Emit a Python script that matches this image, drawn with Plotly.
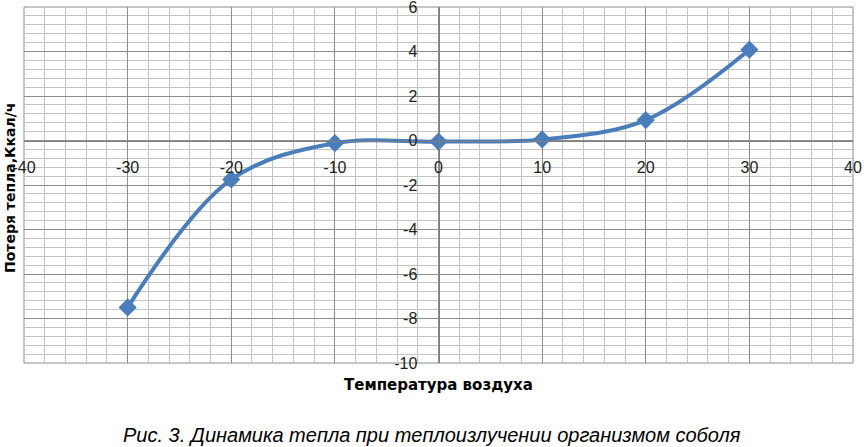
import plotly.graph_objects as go

temperature = [-30, -20, -10, 0, 10, 20, 30]
heat_loss = [-7.5, -1.75, -0.12, -0.05, 0.05, 0.92, 4.08]

x_ticks = [-40, -30, -20, -10, 0, 10, 20, 30, 40]
y_ticks = [-10, -8, -6, -4, -2, 0, 2, 4, 6]

x_title = "Температура воздуха"
y_title = "Потеря тепла,Ккал/ч"
caption = "Рис. 3. Динамика тепла при теплоизлучении организмом соболя"

blue = "#4A7EBB"
major = "#8c8c8c"
minor = "#c4c4c4"

fig = go.Figure()
fig.add_trace(go.Scatter(
    x=temperature, y=heat_loss, mode="lines+markers",
    line=dict(color=blue, width=4, shape="spline", smoothing=1.0),
    marker=dict(symbol="diamond", size=14, color=blue),
    showlegend=False, cliponaxis=False,
))

tickfont = dict(family="Liberation Sans, Arial, sans-serif", size=16, color="#222")

fig.update_layout(
    width=864, height=447,
    margin=dict(l=24, r=11, t=7, b=84, autoexpand=False),
    paper_bgcolor="white", plot_bgcolor="white",
    xaxis=dict(
        range=[-40, 40], tickvals=x_ticks, ticktext=[str(v) for v in x_ticks],
        showgrid=True, gridcolor=major, gridwidth=1,
        minor=dict(dtick=2, tick0=0, showgrid=True, gridcolor=minor, gridwidth=1),
        zeroline=False, showline=True, linecolor="#7f7f7f", linewidth=1,
        anchor="free", position=0.625, ticks="", tickfont=tickfont,
        ticklabelstandoff=12, fixedrange=True, automargin=False,
        ticklabeloverflow="allow",
    ),
    yaxis=dict(
        range=[-10, 6], tickvals=y_ticks, ticktext=[str(v) for v in y_ticks],
        showgrid=True, gridcolor=major, gridwidth=1,
        minor=dict(dtick=0.4, tick0=0, showgrid=True, gridcolor=minor, gridwidth=1),
        zeroline=False, showline=True, linecolor="#7f7f7f", linewidth=1,
        anchor="free", position=0.5, ticks="", tickfont=tickfont,
        ticklabelstandoff=18, fixedrange=True, automargin=False,
        ticklabeloverflow="allow",
    ),
    shapes=[
        dict(type="rect", xref="paper", yref="paper", x0=0, x1=1, y0=0, y1=1,
             line=dict(color=major, width=1), layer="below"),
    ],
    annotations=[
        dict(text=x_title, xref="paper", yref="paper", x=0.5, y=-0.03,
             xanchor="center", yanchor="top", showarrow=False,
             font=dict(family="DejaVu Sans, sans-serif", size=15, color="black", weight="bold")),
        dict(text=y_title, xref="paper", yref="paper", x=-0.017, y=0.494,
             xanchor="center", yanchor="middle", showarrow=False, textangle=-90,
             font=dict(family="DejaVu Sans, sans-serif", size=14, color="black", weight="bold")),
        dict(text="<i>" + caption + "</i>", xref="paper", yref="paper", x=0.492, y=-0.165,
             xanchor="center", yanchor="top", showarrow=False,
             font=dict(family="Liberation Sans Narrow, Arial Narrow, sans-serif", size=20, color="black")),
    ],
)

fig.write_html("out.html", config={"displayModeBar": False},
               post_script="document.body.style.margin='0';")
